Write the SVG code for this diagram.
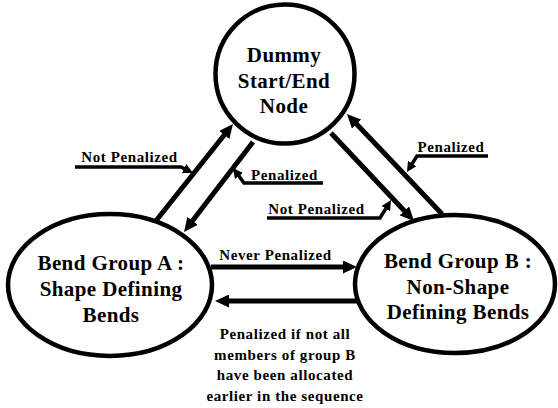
<svg xmlns="http://www.w3.org/2000/svg" width="558" height="408" viewBox="0 0 558 408">
<style>
.node{fill:#fff;stroke:#000;stroke-width:4.5}
.nt{font-family:"Liberation Serif","Times New Roman",serif;font-weight:bold;font-size:21px;letter-spacing:0.4px;text-anchor:middle;fill:#000}
.lbl{font-family:"Liberation Serif","Times New Roman",serif;font-weight:bold;font-size:15px;letter-spacing:0.6px;text-anchor:middle;fill:#000}
.arr{fill:none;stroke:#000;stroke-width:5;marker-end:url(#big)}
.lead{fill:none;stroke:#000;stroke-width:3.5;marker-end:url(#small)}
</style>
<defs>
<marker id="big" markerUnits="userSpaceOnUse" markerWidth="14" markerHeight="13" viewBox="0 0 14 13" refX="6" refY="6.5" orient="auto"><path d="M0,0 L14,6.5 L0,13 z" fill="#000"/></marker>
<marker id="small" markerUnits="userSpaceOnUse" markerWidth="10" markerHeight="10" viewBox="0 0 10 10" refX="5" refY="5" orient="auto"><path d="M0,0 L10,5 L0,10 z" fill="#000"/></marker>
</defs>
<rect width="558" height="408" fill="#fff"/>
<g id="connectors">
<line class="arr" x1="155" y1="222" x2="228" y2="130.3"/>
<line class="arr" x1="253" y1="142" x2="188.9" y2="225.6"/>
<line class="arr" x1="331" y1="133" x2="408.5" y2="215.2"/>
<line class="arr" x1="442" y1="214" x2="352.5" y2="119.8"/>
<line class="arr" x1="211" y1="267" x2="349" y2="267"/>
<line class="arr" x1="357" y1="301" x2="223" y2="301"/>
</g>
<g id="node-dummy">
<circle class="node" cx="285" cy="74" r="69.5"/>
<text class="nt" x="284" y="62">Dummy</text>
<text class="nt" x="284" y="88">Start/End</text>
<text class="nt" x="284" y="113">Node</text>
</g>
<g id="node-groupA">
<ellipse class="node" cx="110" cy="285" rx="102" ry="71"/>
<text class="nt" x="111" y="270">Bend Group A :</text>
<text class="nt" x="111" y="296">Shape Defining</text>
<text class="nt" x="111" y="322">Bends</text>
</g>
<g id="node-groupB">
<ellipse class="node" cx="455" cy="284" rx="100" ry="69"/>
<text class="nt" x="458" y="268">Bend Group B :</text>
<text class="nt" x="458" y="294">Non-Shape</text>
<text class="nt" x="458" y="319">Defining Bends</text>
</g>
<g id="labels">
<path class="lead" d="M75,167 H181 L188.5,170.8"/>
<text class="lbl" x="129.5" y="162">Not Penalized</text>
<path class="lead" d="M323,183 H244 L236,172"/>
<text class="lbl" x="284.5" y="180">Penalized</text>
<path class="lead" d="M267,218 H380 L388.4,204.3"/>
<text class="lbl" x="316.5" y="214">Not Penalized</text>
<path class="lead" d="M488,156 H417 L409.6,167.8"/>
<text class="lbl" x="451" y="152">Penalized</text>
<text class="lbl" x="275.5" y="260">Never Penalized</text>
<text class="lbl" x="285" y="339">Penalized if not all</text>
<text class="lbl" x="285" y="360">members of group B</text>
<text class="lbl" x="285" y="380">have been allocated</text>
<text class="lbl" x="285" y="401">earlier in the sequence</text>
</g>
</svg>
